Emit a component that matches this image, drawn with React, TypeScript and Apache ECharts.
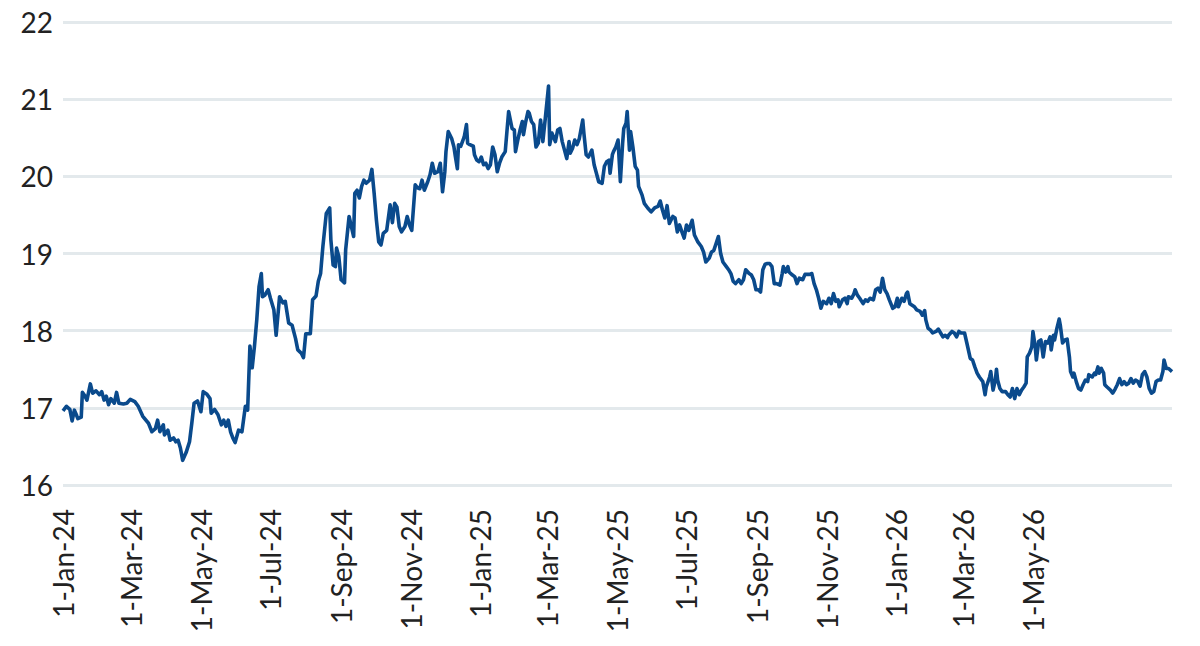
import React, { useEffect, useRef } from "react";
import * as echarts from "echarts";

// Days since 1-Jan-24 for each observation
const dayOffsets: number[] = [
  0, 3, 6, 8, 10, 12, 13, 16, 17, 19, 21, 24, 26, 29, 32, 34, 36, 38, 40, 42,
  45, 47, 49, 53, 56, 59, 63, 66, 70, 75, 78, 81, 83, 85, 88, 89, 92, 94, 97, 99,
  101, 103, 105, 108, 111, 113, 115, 118, 121, 123, 126, 129, 130, 133, 136, 139, 141, 143, 145, 147,
  149, 151, 154, 157, 160, 162, 164, 166, 168, 170, 172, 174, 175, 177, 180, 182, 185, 187, 190, 193,
  195, 198, 201, 204, 206, 209, 211, 213, 217, 219, 222, 224, 226, 228, 231, 234, 235, 237, 239, 240,
  242, 244, 247, 248, 251, 253, 255, 256, 258, 260, 262, 264, 266, 269, 271, 273, 275, 277, 279, 281,
  284, 287, 289, 291, 293, 295, 297, 300, 302, 304, 306, 309, 311, 313, 315, 317, 320, 322, 324, 326,
  329, 331, 333, 335, 336, 338, 341, 343, 344, 346, 347, 349, 352, 354, 355, 357, 360, 361, 363, 365,
  367, 369, 371, 373, 375, 377, 379, 381, 383, 385, 388, 390, 391, 394, 396, 397, 399, 401, 403, 404,
  406, 408, 409, 411, 413, 415, 417, 419, 421, 423, 426, 427, 429, 432, 434, 436, 438, 440, 442, 444,
  445, 447, 449, 451, 453, 456, 457, 459, 461, 464, 466, 468, 470, 473, 475, 477, 479, 480, 482, 483,
  485, 487, 489, 491, 492, 494, 495, 497, 498, 500, 502, 504, 505, 508, 510, 513, 516, 519, 522, 524,
  526, 528, 530, 532, 535, 537, 539, 541, 543, 545, 547, 549, 552, 554, 557, 560, 562, 564, 567, 569,
  571, 573, 575, 577, 579, 582, 584, 586, 588, 590, 593, 595, 597, 599, 602, 604, 606, 608, 610, 612,
  614, 616, 618, 620, 622, 624, 626, 629, 631, 632, 634, 636, 637, 640, 642, 644, 646, 649, 651, 655,
  657, 659, 661, 663, 665, 667, 670, 672, 674, 676, 678, 680, 681, 684, 686, 688, 689, 692, 694, 695,
  697, 699, 702, 704, 706, 708, 711, 713, 715, 717, 719, 721, 723, 725, 728, 730, 732, 733, 736, 738,
  740, 741, 743, 745, 747, 749, 752, 754, 756, 757, 759, 761, 763, 766, 768, 770, 772, 774, 776, 777,
  780, 782, 784, 786, 788, 791, 793, 796, 798, 800, 802, 804, 807, 809, 810, 813, 814, 816, 818, 819,
  820, 822, 824, 827, 829, 831, 833, 835, 837, 839, 841, 843, 845, 846, 848, 850, 851, 853, 854, 856,
  858, 860, 862, 864, 866, 867, 869, 870, 872, 874, 875, 877, 879, 881, 883, 884, 886, 887, 889, 891,
  893, 895, 897, 899, 900, 903, 905, 906, 908, 909, 911, 913, 914, 916, 919, 921, 923, 925, 927, 929,
  931, 933, 935, 937, 939, 941, 943, 945, 947, 949, 951, 953, 955, 957, 959, 961, 963, 965, 966, 968,
  970, 973,
];

const values: number[] = [
  16.96, 17.02, 16.98, 16.83, 16.97, 16.9, 16.86, 16.88, 17.2, 17.16, 17.1, 17.31, 17.19, 17.22, 17.17, 17.21, 17.1, 17.15, 17.04, 17.12,
  17.06, 17.2, 17.06, 17.05, 17.06, 17.11, 17.08, 17.02, 16.89, 16.8, 16.69, 16.73, 16.84, 16.69, 16.78, 16.65, 16.71, 16.58, 16.61, 16.56,
  16.58, 16.48, 16.32, 16.42, 16.56, 16.8, 17.06, 17.09, 16.95, 17.21, 17.18, 17.12, 16.93, 16.98, 16.91, 16.78, 16.84, 16.76, 16.84, 16.69,
  16.61, 16.55, 16.71, 16.69, 17.02, 16.97, 17.8, 17.52, 17.8, 18.14, 18.57, 18.74, 18.44, 18.46, 18.53, 18.42, 18.27, 17.94, 18.44, 18.36,
  18.38, 18.1, 18.07, 17.9, 17.75, 17.71, 17.65, 17.96, 17.96, 18.4, 18.45, 18.64, 18.74, 19.09, 19.52, 19.59, 19.18, 18.85, 18.83, 19.07,
  18.96, 18.66, 18.62, 19.05, 19.48, 19.35, 19.22, 19.78, 19.82, 19.72, 19.87, 19.95, 19.91, 19.95, 20.09, 19.78, 19.43, 19.15, 19.11, 19.26,
  19.3, 19.63, 19.4, 19.65, 19.6, 19.35, 19.28, 19.35, 19.48, 19.37, 19.3, 19.89, 19.85, 19.84, 19.95, 19.82, 19.93, 20.02, 20.17, 20.04,
  20.06, 20.17, 19.8, 20.06, 20.32, 20.58, 20.49, 20.38, 20.28, 20.1, 20.41, 20.39, 20.51, 20.67, 20.43, 20.41, 20.39, 20.28, 20.21, 20.19,
  20.25, 20.15, 20.17, 20.1, 20.15, 20.38, 20.28, 20.06, 20.17, 20.25, 20.32, 20.67, 20.84, 20.62, 20.6, 20.32, 20.47, 20.6, 20.71, 20.54,
  20.71, 20.84, 20.82, 20.71, 20.67, 20.38, 20.43, 20.73, 20.45, 20.73, 21.17, 20.41, 20.56, 20.45, 20.6, 20.62, 20.45, 20.34, 20.23, 20.45,
  20.3, 20.36, 20.47, 20.41, 20.49, 20.73, 20.56, 20.28, 20.25, 20.34, 20.15, 20.04, 19.93, 19.91, 20.13, 20.19, 20.21, 20.04, 20.28, 20.32,
  20.38, 20.47, 19.93, 20.43, 20.62, 20.69, 20.84, 20.34, 20.58, 20.38, 20.13, 20.08, 19.87, 19.76, 19.65, 19.59, 19.54, 19.59, 19.61, 19.68,
  19.56, 19.46, 19.62, 19.39, 19.48, 19.46, 19.28, 19.37, 19.28, 19.2, 19.37, 19.3, 19.43, 19.24, 19.15, 19.09, 19.02, 18.89, 18.94, 19.02,
  19.04, 19.13, 19.22, 19.0, 18.89, 18.83, 18.79, 18.74, 18.64, 18.61, 18.66, 18.61, 18.66, 18.79, 18.74, 18.72, 18.66, 18.53, 18.53, 18.5,
  18.79, 18.86, 18.87, 18.87, 18.83, 18.61, 18.61, 18.59, 18.74, 18.83, 18.76, 18.83, 18.76, 18.72, 18.7, 18.61, 18.68, 18.66, 18.73, 18.73,
  18.74, 18.61, 18.53, 18.42, 18.29, 18.38, 18.35, 18.42, 18.35, 18.48, 18.38, 18.4, 18.31, 18.4, 18.42, 18.35, 18.44, 18.42, 18.48, 18.53,
  18.46, 18.42, 18.35, 18.4, 18.38, 18.42, 18.4, 18.53, 18.55, 18.5, 18.68, 18.53, 18.48, 18.4, 18.29, 18.31, 18.42, 18.31, 18.42, 18.38,
  18.48, 18.5, 18.35, 18.33, 18.31, 18.27, 18.25, 18.2, 18.26, 18.14, 18.03, 18.01, 17.97, 17.99, 18.02, 17.97, 17.92, 17.94, 17.91, 17.94,
  17.99, 17.97, 17.92, 17.99, 17.97, 17.97, 17.84, 17.64, 17.62, 17.53, 17.45, 17.4, 17.34, 17.17, 17.27, 17.4, 17.47, 17.23, 17.36, 17.5,
  17.36, 17.25, 17.21, 17.21, 17.17, 17.14, 17.25, 17.12, 17.25, 17.17, 17.23, 17.27, 17.32, 17.66, 17.71, 17.79, 17.99, 17.79, 17.62, 17.86,
  17.88, 17.66, 17.86, 17.84, 17.92, 17.75, 17.94, 17.88, 18.03, 18.15, 18.07, 17.84, 17.88, 17.89, 17.66, 17.47, 17.4, 17.45, 17.34, 17.25,
  17.23, 17.3, 17.36, 17.34, 17.43, 17.4, 17.45, 17.43, 17.53, 17.45, 17.51, 17.45, 17.3, 17.27, 17.23, 17.19, 17.24, 17.3, 17.38, 17.3,
  17.34, 17.3, 17.32, 17.38, 17.32, 17.36, 17.34, 17.28, 17.43, 17.47, 17.4, 17.25, 17.19, 17.21, 17.34, 17.36, 17.36, 17.47, 17.62, 17.51,
  17.51, 17.47,
];

const tickLabels: string[] = [
  "1-Jan-24", "1-Mar-24", "1-May-24", "1-Jul-24", "1-Sep-24", "1-Nov-24",
  "1-Jan-25", "1-Mar-25", "1-May-25", "1-Jul-25", "1-Sep-25", "1-Nov-25",
  "1-Jan-26", "1-Mar-26", "1-May-26",
];

const yMin = 16;
const yMax = 22;
const yStep = 1;

const MONTHS = ["Jan", "Feb", "Mar", "Apr", "May", "Jun", "Jul", "Aug", "Sep", "Oct", "Nov", "Dec"];
const DAY = 86400000;
const START = Date.UTC(2024, 0, 1);

function labelToDay(label: string): number {
  const [d, m, y] = label.split("-");
  const t = Date.UTC(2000 + Number(y), MONTHS.indexOf(m), Number(d));
  return Math.round((t - START) / DAY);
}

const tickDays = tickLabels.map(labelToDay);
const lastDay = dayOffsets[dayOffsets.length - 1];

export default function App() {
  const ref = useRef<HTMLDivElement>(null);

  useEffect(() => {
    if (!ref.current) return;
    const chart = echarts.init(ref.current, null, { renderer: "svg" });
    const textStyle = {
      fontFamily: "Lato, 'Noto Sans', sans-serif",
      fontSize: 28,
      color: "#222222",
    };
    chart.setOption({
      animation: false,
      backgroundColor: "#ffffff",
      grid: { left: 63, right: 28, top: 22, bottom: 161, containLabel: false },
      xAxis: {
        type: "value",
        min: 0,
        max: lastDay,
        axisLine: { show: false },
        axisTick: { show: false },
        splitLine: { show: false },
        axisLabel: {
          ...textStyle,
          rotate: 90,
          margin: 24,
          customValues: tickDays,
          formatter: (v: number) => {
            const i = tickDays.indexOf(Math.round(v));
            return i >= 0 ? tickLabels[i] : "";
          },
        },
      },
      yAxis: {
        type: "value",
        min: yMin,
        max: yMax,
        interval: yStep,
        axisLine: { show: false },
        axisTick: { show: false },
        axisLabel: { ...textStyle, margin: 10 },
        splitLine: { lineStyle: { color: "#e3e9ec", width: 3 } },
      },
      series: [
        {
          type: "line",
          data: dayOffsets.map((d, i) => [d, values[i]]),
          showSymbol: false,
          symbol: "none",
          lineStyle: { color: "#0a4a8c", width: 3.6, join: "round" },
          itemStyle: { color: "#0a4a8c" },
        },
      ],
    });
    return () => chart.dispose();
  }, []);

  return (
    <div
      ref={ref}
      style={{ position: "fixed", left: 0, top: 0, width: 1200, height: 646, background: "#fff" }}
    />
  );
}
